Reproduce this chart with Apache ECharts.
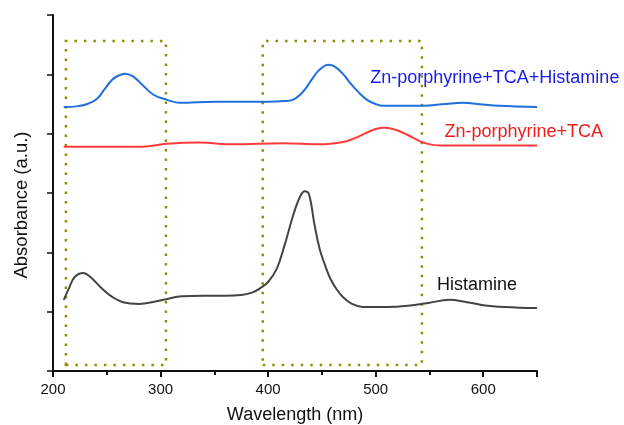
<!DOCTYPE html>
<html>
<head>
<meta charset="utf-8">
<script src="https://cdn.jsdelivr.net/npm/echarts@6/dist/echarts.min.js"></script>
<style>
  html, body { margin: 0; padding: 0; background: #fff; }
  #chart { width: 624px; height: 425px; }
</style>
</head>
<body>
<div id="chart"></div>
<script>
// 吸收光谱
const histWl  = [210, 215, 220, 228, 235, 245, 255, 265, 280, 295, 305, 320, 340, 360, 375, 385, 393, 400, 408, 415, 420, 425, 430, 434, 438, 443, 448, 453, 458, 464, 470, 478, 488, 510, 530, 550, 568, 585, 600, 620, 650];
const histAbs = [1.20, 1.40, 1.58, 1.65, 1.58, 1.40, 1.25, 1.16, 1.13, 1.17, 1.21, 1.26, 1.27, 1.27, 1.28, 1.32, 1.40, 1.50, 1.72, 2.10, 2.42, 2.72, 2.95, 3.03, 2.98, 2.48, 2.05, 1.78, 1.55, 1.37, 1.24, 1.13, 1.08, 1.08, 1.10, 1.15, 1.20, 1.16, 1.11, 1.08, 1.06];

const tcaWl  = [210, 250, 283, 306, 336, 367, 414, 448, 470, 480, 492, 500, 508, 516, 525, 535, 544, 560, 600, 650];
const tcaAbs = [3.78, 3.78, 3.78, 3.83, 3.85, 3.82, 3.84, 3.82, 3.86, 3.92, 4.02, 4.08, 4.10, 4.08, 4.02, 3.93, 3.85, 3.80, 3.80, 3.80];

const mixWl  = [210, 222, 232, 241, 248, 255, 261, 267, 274, 281, 293, 306, 318, 350, 400, 415, 423, 430, 436, 442, 448, 456, 462, 470, 476, 484, 492, 500, 507, 525, 544, 565, 581, 600, 615, 650];
const mixAbs = [4.45, 4.46, 4.50, 4.59, 4.75, 4.91, 4.98, 5.01, 4.97, 4.86, 4.66, 4.57, 4.52, 4.54, 4.54, 4.55, 4.57, 4.66, 4.79, 4.95, 5.08, 5.16, 5.13, 5.00, 4.86, 4.70, 4.57, 4.50, 4.47, 4.47, 4.47, 4.50, 4.52, 4.49, 4.47, 4.45];

// 标注框 (nm)
const boxes = [[212, 305], [395, 543]];
const boxLow = 0.1, boxHigh = 5.56;

const seriesNames = ['Histamine', 'Zn-porphyrine+TCA', 'Zn-porphyrine+TCA+Histamine'];
// 标签位置 [nm, abs]
const labelPos = [[557, 1.45], [564, 4.03], [495, 4.94]];

const zip = (xs, ys) => xs.map((x, i) => [x, ys[i]]);
const FONT = 'Liberation Sans, Arial, sans-serif';

let chart = echarts.init(document.getElementById('chart'));

function makeSeries(name, data, lineColor, textColor, pos) {
  return {
    name: name,
    type: 'line',
    data: data,
    smooth: 0.4,
    showSymbol: false,
    symbol: 'none',
    lineStyle: { color: lineColor, width: 2 },
    silent: true,
    markPoint: {
      symbol: 'circle',
      symbolSize: 0,
      data: [{ coord: pos }],
      label: {
        show: true,
        position: 'right',
        distance: 0,
        formatter: name,
        color: textColor,
        fontSize: 18,
        fontFamily: FONT
      }
    }
  };
}

let series = [
  makeSeries(seriesNames[0], zip(histWl, histAbs), '#444444', '#111111', labelPos[0]),
  makeSeries(seriesNames[1], zip(tcaWl, tcaAbs), '#ff3b3b', '#ee1c1c', labelPos[1]),
  makeSeries(seriesNames[2], zip(mixWl, mixAbs), '#1f6fdc', '#1a1aee', labelPos[2])
];

// 虚线框
series[0].markArea = {
  silent: true,
  itemStyle: {
    color: 'rgba(0,0,0,0)',
    borderColor: '#8f8f00',
    borderWidth: 2.5,
    borderType: [2.5, 7]
  },
  data: boxes.map(b => [{ coord: [b[0], boxLow] }, { coord: [b[1], boxHigh] }])
};

let option = {
  animation: false,
  backgroundColor: '#ffffff',
  grid: { left: 53, right: 87, top: 15, bottom: 54, outerBoundsMode: 'none', containLabel: false },
  xAxis: {
    type: 'value',
    min: 200,
    max: 650,
    interval: 100,
    name: 'Wavelength (nm)',
    nameLocation: 'middle',
    nameGap: 35,
    nameTextStyle: { fontSize: 18, color: '#111', fontFamily: FONT },
    axisLine: { lineStyle: { color: '#111', width: 2 } },
    axisTick: { show: true, inside: false, length: 6, lineStyle: { color: '#111', width: 2 } },
    minorTick: { show: true, splitNumber: 2, length: 4, lineStyle: { color: '#111', width: 2 } },
    axisLabel: {
      fontSize: 15,
      color: '#111',
      margin: 11,
      fontFamily: FONT,
      formatter: v => (v % 100 === 0 ? String(v) : '')
    },
    splitLine: { show: false }
  },
  yAxis: {
    type: 'value',
    min: 0,
    max: 6,
    interval: 1,
    name: 'Absorbance (a.u.)',
    nameLocation: 'middle',
    nameGap: 22,
    nameRotate: 90,
    nameTextStyle: { fontSize: 18.5, color: '#111', fontFamily: FONT, padding: [0, 24, 0, 0] },
    axisLine: { show: true, lineStyle: { color: '#111', width: 2 } },
    axisTick: { show: true, inside: false, length: 6, lineStyle: { color: '#111', width: 1.5 } },
    axisLabel: { show: false },
    splitLine: { show: false }
  },
  series: series
};

chart.setOption(option);

window.onresize = () => {
  chart.resize();
};
</script>
</body>
</html>
